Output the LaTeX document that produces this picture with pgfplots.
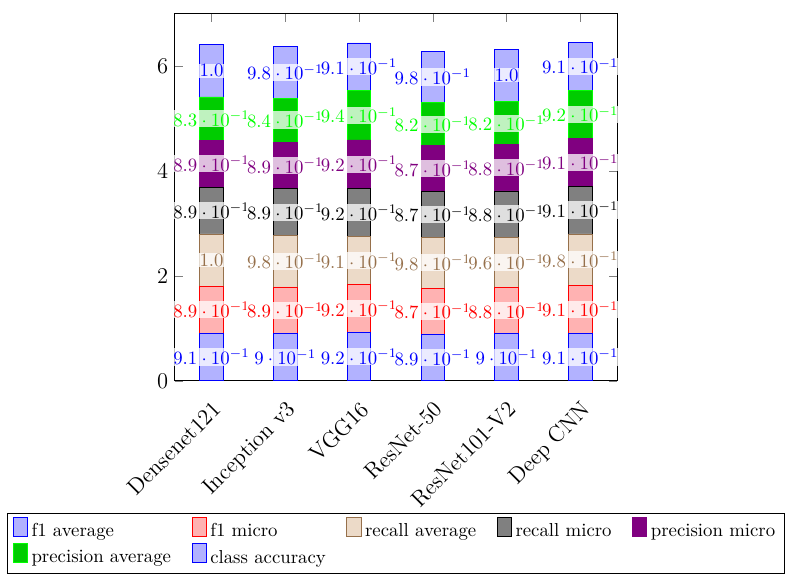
\documentclass[border=0pt]{standalone}
\usepackage{pgfplots}
\pgfplotsset{compat=1.18}
\definecolor{refbrown}{RGB}{150,112,75}
\definecolor{refbrownfill}{RGB}{236,218,200}
\begin{document}
\begin{tikzpicture}
\begin{axis}[
  scale only axis,
  width=235.6pt,
  y=27.94pt,
  ymin=0, ymax=7,
  xmin=-0.5, xmax=5.5,
  ybar stacked,
  bar width=12.5pt,
  xtick=data,
  xticklabels={Densenet121,Inception v3,VGG16,ResNet-50,ResNet101-V2,Deep CNN},
  x tick label style={rotate=45,anchor=north east,font=\large,inner sep=7pt},
  y tick label style={font=\large},
  ytick={0,2,4,6},
  point meta=explicit symbolic,
  nodes near coords,
  every node near coord/.append style={anchor=center, fill=white, fill opacity=0.75, text opacity=1, inner sep=0.5pt},
  legend columns=5,
  legend cell align=left,
  legend style={at={(0.5,-0.36)}, anchor=north, /tikz/every even column/.append style={column sep=9pt}},
  legend image code/.code={\draw[#1] (0pt,-0.25em) rectangle (7.5pt,0.75em);},
]
\addplot[color=blue, fill=blue!30] coordinates {
 (0,0.91) [$9.1\cdot 10^{-1}$] (1,0.90) [$9\cdot 10^{-1}$] (2,0.92) [$9.2\cdot 10^{-1}$]
 (3,0.89) [$8.9\cdot 10^{-1}$] (4,0.90) [$9\cdot 10^{-1}$] (5,0.91) [$9.1\cdot 10^{-1}$]};
\addlegendentry{f1 average}
\addplot[color=red, fill=red!30] coordinates {
 (0,0.89) [$8.9\cdot 10^{-1}$] (1,0.89) [$8.9\cdot 10^{-1}$] (2,0.92) [$9.2\cdot 10^{-1}$]
 (3,0.87) [$8.7\cdot 10^{-1}$] (4,0.88) [$8.8\cdot 10^{-1}$] (5,0.91) [$9.1\cdot 10^{-1}$]};
\addlegendentry{f1 micro}
\addplot[color=refbrown, fill=refbrownfill] coordinates {
 (0,1.0) [$1.0$] (1,0.98) [$9.8\cdot 10^{-1}$] (2,0.91) [$9.1\cdot 10^{-1}$]
 (3,0.98) [$9.8\cdot 10^{-1}$] (4,0.96) [$9.6\cdot 10^{-1}$] (5,0.98) [$9.8\cdot 10^{-1}$]};
\addlegendentry{recall average}
\addplot[color=black, fill=gray] coordinates {
 (0,0.89) [$8.9\cdot 10^{-1}$] (1,0.89) [$8.9\cdot 10^{-1}$] (2,0.92) [$9.2\cdot 10^{-1}$]
 (3,0.87) [$8.7\cdot 10^{-1}$] (4,0.88) [$8.8\cdot 10^{-1}$] (5,0.91) [$9.1\cdot 10^{-1}$]};
\addlegendentry{recall micro}
\addplot[color=violet, fill=violet] coordinates {
 (0,0.89) [$8.9\cdot 10^{-1}$] (1,0.89) [$8.9\cdot 10^{-1}$] (2,0.92) [$9.2\cdot 10^{-1}$]
 (3,0.87) [$8.7\cdot 10^{-1}$] (4,0.88) [$8.8\cdot 10^{-1}$] (5,0.91) [$9.1\cdot 10^{-1}$]};
\addlegendentry{precision micro}
\addplot[color=green, fill=green!80!black] coordinates {
 (0,0.83) [$8.3\cdot 10^{-1}$] (1,0.84) [$8.4\cdot 10^{-1}$] (2,0.94) [$9.4\cdot 10^{-1}$]
 (3,0.82) [$8.2\cdot 10^{-1}$] (4,0.82) [$8.2\cdot 10^{-1}$] (5,0.92) [$9.2\cdot 10^{-1}$]};
\addlegendentry{precision average}
\addplot[color=blue, fill=blue!30] coordinates {
 (0,1.0) [$1.0$] (1,0.98) [$9.8\cdot 10^{-1}$] (2,0.91) [$9.1\cdot 10^{-1}$]
 (3,0.98) [$9.8\cdot 10^{-1}$] (4,1.0) [$1.0$] (5,0.91) [$9.1\cdot 10^{-1}$]};
\addlegendentry{class accuracy}
\end{axis}
\path ([xshift=-3.7pt,yshift=7pt]current bounding box.north west);
\end{tikzpicture}
\end{document}
